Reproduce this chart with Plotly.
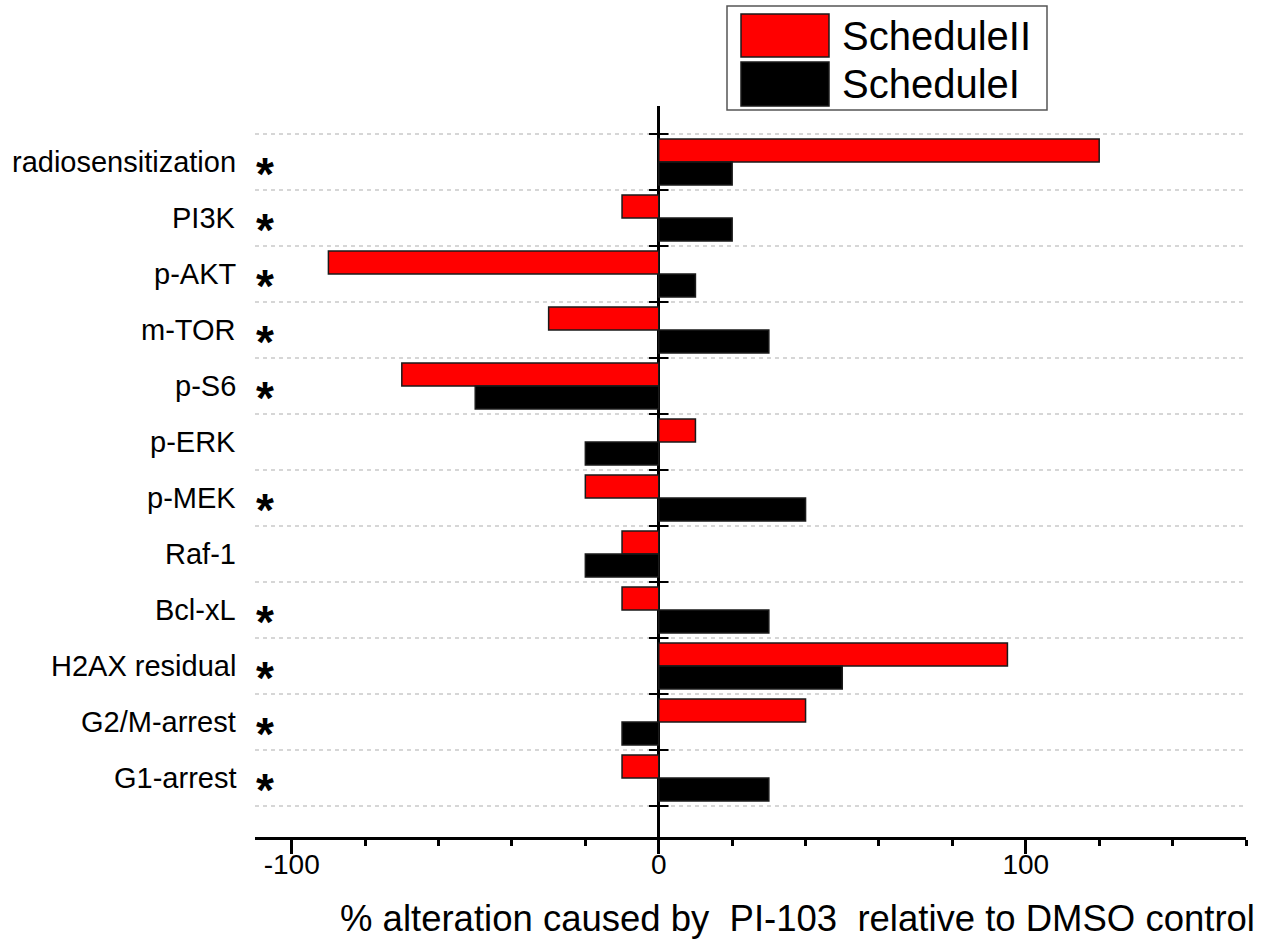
import plotly.graph_objects as go

# Categories, listed top to bottom
categories = [
    "radiosensitization", "PI3K", "p-AKT", "m-TOR", "p-S6", "p-ERK",
    "p-MEK", "Raf-1", "Bcl-xL", "H2AX residual", "G2/M-arrest", "G1-arrest",
]
significant = [True, True, True, True, True, False,
               True, False, True, True, True, True]

schedule_ii = [120, -10, -90, -30, -70, 10, -20, -10, -10, 95, 40, -10]
schedule_i = [20, 20, 10, 30, -50, -20, 40, -20, 30, 50, -10, 30]

x_tick_vals = [-100, 0, 100]
x_tick_text = ["-100", "0", "100"]

FONT = "Arial, Liberation Sans, sans-serif"
W, H = 1266, 947
ML, MR, MT, MB = 255, 20, 106, 110
PW, PH = W - ML - MR, H - MT - MB

n = len(categories)
ypos = [n - i for i in range(n)]               # top category at n, bottom at 1
bounds = [k + 0.5 for k in range(n + 1)]       # band separators
BW = 0.41


def px_x(px):
    return (px - ML) / PW


def px_y(py):
    return (H - MB - py) / PH


fig = go.Figure()
fig.add_trace(go.Bar(
    y=ypos, x=schedule_ii, orientation="h", width=BW, offset=0,
    marker=dict(color="#ff0000", line=dict(color="#1a1a1a", width=1.5)),
    name="ScheduleII", showlegend=False,
))
fig.add_trace(go.Bar(
    y=ypos, x=schedule_i, orientation="h", width=BW, offset=-BW,
    marker=dict(color="#000000", line=dict(color="#1a1a1a", width=1.5)),
    name="ScheduleI", showlegend=False,
))
# small ticks on the vertical zero axis at each band separator
fig.add_trace(go.Scatter(
    x=[0] * len(bounds), y=bounds, mode="markers", hoverinfo="skip",
    marker=dict(symbol="line-ew", size=14, line=dict(color="black", width=2)),
    showlegend=False,
))

annotations = []
for cat, y, sig in zip(categories, ypos, significant):
    annotations.append(dict(
        x=px_x(238), xref="paper", y=y, yref="y", text=cat, showarrow=False,
        xanchor="right", yanchor="middle", font=dict(family=FONT, size=29, color="black"),
    ))
    if sig:
        annotations.append(dict(
            x=px_x(265), xref="paper", y=y, yref="y", text="<b>*</b>", showarrow=False,
            xanchor="center", yanchor="middle", yshift=-12,
            font=dict(family=FONT, size=46, color="black"),
        ))

annotations.append(dict(
    x=px_x(797), xref="paper", y=px_y(918), yref="paper",
    text="% alteration caused by\u00a0\u00a0PI-103\u00a0\u00a0relative to DMSO control",
    showarrow=False, xanchor="center", yanchor="middle",
    font=dict(family=FONT, size=36.5, color="black"),
))

# legend drawn as a framed box with large swatches
legend_items = [("ScheduleII", "#ff0000", 14, 57), ("ScheduleI", "#000000", 62, 106)]
shapes = [dict(type="rect", xref="paper", yref="paper",
               x0=px_x(727), x1=px_x(1047), y0=px_y(110), y1=px_y(6),
               line=dict(color="#555555", width=1.5), fillcolor="white", layer="above")]
for label, color, top, bot in legend_items:
    shapes.append(dict(type="rect", xref="paper", yref="paper",
                       x0=px_x(741), x1=px_x(829), y0=px_y(bot), y1=px_y(top),
                       line=dict(color="#1a1a1a", width=1.5), fillcolor=color, layer="above"))
    annotations.append(dict(
        x=px_x(840), xref="paper", y=px_y((top + bot) / 2), yref="paper", text=label,
        showarrow=False, xanchor="left", yanchor="middle",
        font=dict(family=FONT, size=40, color="black"),
    ))

fig.update_layout(
    width=W, height=H, barmode="overlay",
    margin=dict(l=ML, r=MR, t=MT, b=MB, pad=0),
    paper_bgcolor="white", plot_bgcolor="white",
    font=dict(family=FONT, color="black"),
    annotations=annotations, shapes=shapes,
    xaxis=dict(
        range=[-110, 160], tickvals=x_tick_vals, ticktext=x_tick_text,
        ticks="outside", ticklen=14, tickwidth=2.5, tickcolor="black",
        minor=dict(dtick=20, tick0=0, ticks="outside", ticklen=6, tickwidth=2.5,
                   tickcolor="black", showgrid=False),
        showline=True, linecolor="black", linewidth=3,
        showgrid=False, zeroline=True, zerolinecolor="black", zerolinewidth=2.5,
        tickfont=dict(family=FONT, size=28, color="black"),
        ticklabelstandoff=-14,
    ),
    yaxis=dict(
        range=[-0.054, 13.0], tickvals=bounds, showticklabels=False, ticks="",
        showgrid=True, gridcolor="#d6d6d6", gridwidth=1.5, griddash="4px,4px",
        zeroline=False, showline=False,
    ),
)

fig.write_html("out.html")
